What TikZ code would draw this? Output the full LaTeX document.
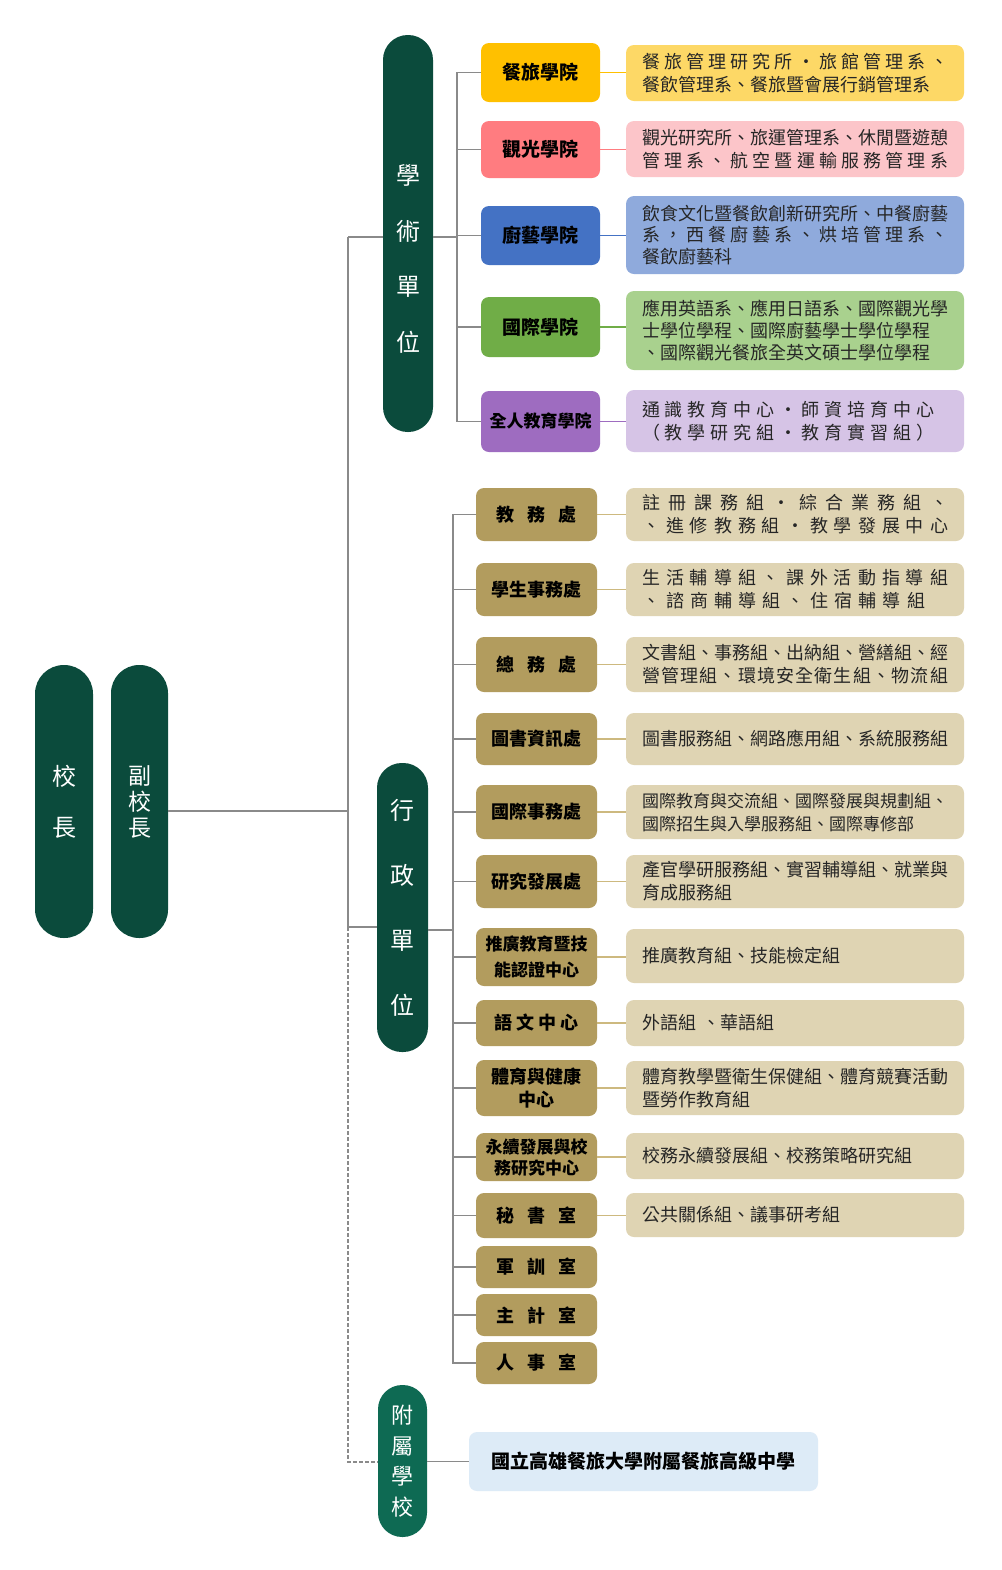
\documentclass[tikz,border=0pt]{standalone}
\usepackage{fontspec}
\setmainfont{Noto Sans CJK TC}
\usetikzlibrary{positioning}
\definecolor{pillgreen}{HTML}{0B4B3C}
\definecolor{pillteal}{HTML}{0E6A53}
\definecolor{linegray}{HTML}{8A8A8A}
\definecolor{hospA}{HTML}{FFC000}\definecolor{hospB}{HTML}{FDD866}
\definecolor{tourA}{HTML}{FF7C80}\definecolor{tourB}{HTML}{FCC5C9}
\definecolor{culiA}{HTML}{4472C4}\definecolor{culiB}{HTML}{8FAADC}
\definecolor{intlA}{HTML}{70AD47}\definecolor{intlB}{HTML}{A9D18E}
\definecolor{holiA}{HTML}{9E6CC0}\definecolor{holiB}{HTML}{D6C4E6}
\definecolor{officeA}{HTML}{B29C5E}\definecolor{officeB}{HTML}{DFD4B3}
\definecolor{officeC}{HTML}{CDB97F}
\definecolor{schoolB}{HTML}{DDEBF7}
\newcommand\sline[2][153pt]{\makebox[#1][s]{\spaceskip=0pt plus 1fil\relax #2}}

\begin{document}
\begin{tikzpicture}[x=.5pt,y=-.5pt,
    conn/.style={draw=linegray,line width=.75pt},
    pill/.style={fill=pillgreen,text=white,inner sep=0pt,align=center,minimum width=25pt,rounded corners=12.4pt},
    college/.style={rounded corners=4pt,minimum width=59.5pt,inner sep=0pt,font={\fontsize{9.5}{12}\selectfont\bfseries}},
    office/.style={rounded corners=4pt,fill=officeA,minimum width=60.5pt,inner sep=0pt,align=center,font={\fontsize{9}{12}\selectfont\bfseries}},
    desc/.style={rounded corners=4pt,minimum width=169pt,text width=153pt,inner sep=0pt,align=left,text=black!85,font={\fontsize{9}{11.5}\selectfont}}]
  \fill[white] (0,0) rectangle (1002,1570);

    % 校長・副校長
  \node[pill,minimum width=29pt,rounded corners=14.4pt,minimum height=136.5pt,font={\fontsize{12}{25.5}\selectfont}] (pres) at (64,801.5) {校\\長};
  \node[pill,minimum width=28.5pt,rounded corners=14.1pt,minimum height=136.5pt,font={\fontsize{11.5}{13}\selectfont}] (vp) at (139.5,801.5) {副\\校\\長};

    % 學術單位
  \node[pill,minimum height=198.5pt] (acad) at (408,233.5) {};
  \node[text=white,align=center,font={\fontsize{12}{27.8}\selectfont}] (acadtxt) at (408,259) {學\\術\\單\\位};

  \node[college,fill=hospA,minimum height=29.5pt] (c1) at (540.5,72.5) {餐旅學院};
  \node[college,fill=tourA,minimum height=28.5pt] (c2) at (540.5,149.5) {觀光學院};
  \node[college,fill=culiA,minimum height=29.5pt] (c3) at (540.5,235.5) {廚藝學院};
  \node[college,fill=intlA,minimum height=30pt] (c4) at (540.5,327) {國際學院};
  \node[college,fill=holiA,minimum height=30.5pt,font={\fontsize{8.5}{12}\selectfont\bfseries}] (c5) at (540.5,421.5) {全人教育學院};

  \node[desc,fill=hospB,minimum height=28pt] (d1) at (795,73)
    {\sline{餐 旅 管 理 研 究 所 ・ 旅 館 管 理 系 、}\\餐飲管理系、餐旅暨會展行銷管理系};
  \node[desc,fill=tourB,minimum height=28pt] (d2) at (795,149)
    {觀光研究所、旅運管理系、休閒暨遊憩\\\sline{管 理 系 、 航 空 暨 運 輸 服 務 管 理 系}};
  \node[desc,fill=culiB,minimum height=39pt,font={\fontsize{9}{10.8}\selectfont}] (d3) at (795,235)
    {飲食文化暨餐飲創新研究所、中餐廚藝\\\sline{系 ， 西 餐 廚 藝 系 、 烘 培 管 理 系 、}\\餐飲廚藝科};
  \node[desc,fill=intlB,minimum height=39.5pt,font={\fontsize{9}{10.8}\selectfont}] (d4) at (795,330.5)
    {應用英語系、應用日語系、國際觀光學\\士學位學程、國際廚藝學士學位學程\\、國際觀光餐旅全英文碩士學位學程};
  \node[desc,fill=holiB,minimum height=31pt] (d5) at (795,421)
    {\sline[146pt]{通 識 教 育 中 心 ・ 師 資 培 育 中 心}\\\sline[146pt]{（ 教 學 研 究 組 ・ 教 育 實 習 組 ）}};

    % 行政單位
  \node[pill,minimum width=25.5pt,minimum height=144.5pt,font={\fontsize{12}{32.5}\selectfont}] (admin) at (402.5,907.5) {行\\政\\單\\位};

  \node[office,minimum height=26.5pt] (o1) at (536.5,514.5) {\sline[40pt]{教 務 處}};
  \node[office,minimum height=26.5pt] (o2) at (536.5,589.5) {學生事務處};
  \node[office,minimum height=27.5pt] (o3) at (536.5,664.5) {\sline[40pt]{總 務 處}};
  \node[office,minimum height=26pt] (o4) at (536.5,739) {圖書資訊處};
  \node[office,minimum height=27pt] (o5) at (536.5,812) {國際事務處};
  \node[office,minimum height=26.5pt] (o6) at (536.5,881.5) {研究發展處};
  \node[office,minimum height=29pt,font={\fontsize{8.5}{13}\selectfont\bfseries}] (o7) at (536.5,957) {推廣教育暨技\\能認證中心};
  \node[office,minimum height=23pt] (o8) at (536.5,1023) {\sline[42pt]{語 文 中 心}};
  \node[office,minimum height=28pt,font={\fontsize{9}{11.5}\selectfont\bfseries}] (o9) at (536.5,1088) {體育與健康\\中心};
  \node[office,minimum height=24pt,font={\fontsize{8.5}{10.5}\selectfont\bfseries}] (o10) at (536.5,1157) {永續發展與校\\務研究中心};
  \node[office,minimum height=22.5pt] (o11) at (536.5,1215.5) {\sline[40pt]{秘 書 室}};
  \node[office,minimum height=21pt] (o12) at (536.5,1267) {\sline[40pt]{軍 訓 室}};
  \node[office,minimum height=21pt] (o13) at (536.5,1315) {\sline[40pt]{主 計 室}};
  \node[office,minimum height=21pt] (o14) at (536.5,1363) {\sline[40pt]{人 事 室}};

  \node[desc,fill=officeB,minimum height=26.5pt] (e1) at (795,514.5)
    {\sline{註 冊 課 務 組 ・ 綜 合 業 務 組 、}\\\sline{、 進 修 教 務 組 ・ 教 學 發 展 中 心}};
  \node[desc,fill=officeB,minimum height=26.5pt] (e2) at (795,589.5)
    {\sline{生 活 輔 導 組 、 課 外 活 動 指 導 組}\\\sline[141.5pt]{、 諮 商 輔 導 組 、 住 宿 輔 導 組}};
  \node[desc,fill=officeB,minimum height=27.5pt] (e3) at (795,664.5)
    {文書組、事務組、出納組、營繕組、經\\\sline{營 管 理 組 、 環 境 安 全 衛 生 組 、 物 流 組}};
  \node[desc,fill=officeB,minimum height=26pt] (e4) at (795,739) {圖書服務組、網路應用組、系統服務組};
  \node[desc,fill=officeB,minimum height=27pt,font={\fontsize{8.5}{11.5}\selectfont}] (e5) at (795,812)
    {國際教育與交流組、國際發展與規劃組、\\國際招生與入學服務組、國際專修部};
  \node[desc,fill=officeB,minimum height=26.5pt] (e6) at (795,881.5) {產官學研服務組、實習輔導組、就業與\\育成服務組};
  \node[desc,fill=officeB,minimum height=27pt] (e7) at (795,956) {推廣教育組、技能檢定組};
  \node[desc,fill=officeB,minimum height=23pt] (e8) at (795,1023) {外語組\ 、華語組};
  \node[desc,fill=officeB,minimum height=27pt] (e9) at (795,1088) {體育教學暨衛生保健組、體育競賽活動\\暨勞作教育組};
  \node[desc,fill=officeB,minimum height=23pt] (e10) at (795,1156) {校務永續發展組、校務策略研究組};
  \node[desc,fill=officeB,minimum height=22pt] (e11) at (795,1215) {公共關係組、議事研考組};

    % 附屬學校
  \node[pill,fill=pillteal,minimum width=24.5pt,rounded corners=12.1pt,minimum height=76pt,font={\fontsize{11}{15.3}\selectfont}] (affil) at (402.5,1461) {附\\屬\\學\\校};
  \node[rounded corners=4pt,fill=schoolB,minimum width=174.5pt,minimum height=29.5pt,font={\fontsize{9.5}{12}\selectfont\bfseries}] (school) at (643.5,1461.5) {國立高雄餐旅大學附屬餐旅高級中學};

    % 主幹線
  \coordinate (jA) at (348,237);
  \coordinate (jV) at (348,811);
  \coordinate (jB) at (348,927);
  \coordinate (jC) at (348,1462);
  \draw[conn] (vp.east |- jV) -- (jV);
  \draw[conn] (jA) -- (jB);
  \draw[conn] (jA) -- (jA -| acad.west);
  \draw[conn] (jB) -- (jB -| admin.west);
  \draw[conn,dash pattern=on 2pt off 1pt] (jB) -- (jC) -- (jC -| affil.west);
  \draw[conn] (school.west -| affil.east) -- (school.west);

    % 學術單位の分岐
  \coordinate (bA) at (457,237);
  \draw[conn] (acad.east |- bA) -- (bA);
  \draw[conn] (bA) |- (c1.west);
  \draw[conn] (bA) |- (c2.west);
  \draw[conn] (bA) |- (c3.west);
  \draw[conn] (bA) |- (c4.west);
  \draw[conn] (bA) |- (c5.west);
  \draw[draw=hospA,line width=.75pt] (c1.east) -- (c1.east -| d1.west);
  \draw[draw=tourA,line width=.75pt] (c2.east) -- (c2.east -| d2.west);
  \draw[draw=culiA,line width=.75pt] (c3.east) -- (c3.east -| d3.west);
  \draw[draw=intlA,line width=.75pt] (c4.east) -- (c4.east -| d4.west);
  \draw[draw=holiA,line width=.75pt] (c5.east) -- (c5.east -| d5.west);

    % 行政單位の分岐
  \coordinate (bB) at (453,930);
  \draw[conn] (admin.east |- bB) -- (bB);
  \foreach \i in {1,...,14} \draw[conn] (bB) |- (o\i.west);
  \foreach \i in {1,...,11} \draw[draw=officeC,line width=.75pt] (o\i.east) -- (o\i.east -| e\i.west);

\end{tikzpicture}
\end{document}
